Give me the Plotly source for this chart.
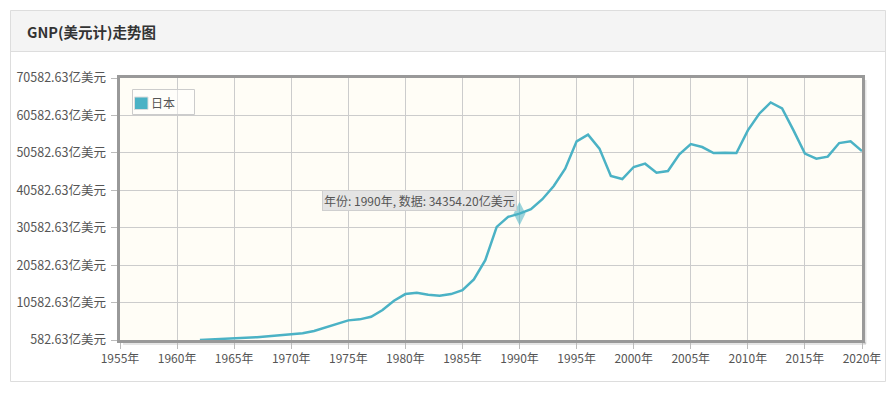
import plotly.graph_objects as go

# ---- data ----
series_name = "日本"
years = list(range(1962, 2021))
values = [
    582.63, 700, 850, 1000, 1150, 1350, 1600, 1850,   # 1962-1969
    2103, 2370, 2983, 3863, 4850, 5830, 6100, 6800, 8580, 11060,  # 1970-1979
    12850, 13200, 12660, 12400, 12850, 13900, 16770, 21920, 30800, 33470,  # 1980-1989
    34354.20, 35520, 38190, 41740, 46370, 53660, 55440, 51710, 44400, 43600,  # 1990-1999
    46800, 47700, 45300, 45740, 50190, 52940, 52140, 50540, 50640, 50540,  # 2000-2009
    56590, 61040, 64050, 62460, 56590, 50370, 49040, 49570, 53200, 53660,  # 2010-2019
    51070,  # 2020
]
y_ticks = [582.63 + 10000 * k for k in range(8)]
y_tick_labels = [f"{v:.2f}亿美元" for v in y_ticks]
x_ticks = list(range(1955, 2021, 5))
x_tick_labels = [f"{y}年" for y in x_ticks]
title_text = "GNP(美元计)走势图"
highlight_year = 1990

# ---- layout helpers (pixel -> paper) ----
W, H = 896, 393
L, R, T, B = 120, 862, 78, 340
def px(x):
    return (x - L) / (R - L)
def py(y):
    return (B - y) / (B - T)

LINE_COLOR = "#4bb2c5"
FONT = "Noto Sans CJK SC"

fig = go.Figure()
fig.add_trace(go.Scatter(
    x=years, y=values, mode="lines",
    line=dict(color=LINE_COLOR, width=2.5),
    name=series_name, showlegend=False, hoverinfo="skip",
))
hi = years.index(highlight_year)
fig.add_trace(go.Scatter(
    x=[years[hi]], y=[values[hi]], mode="markers",
    marker=dict(symbol="diamond-tall", size=17, color="rgba(75,178,197,0.55)",
                line=dict(width=0)),
    showlegend=False, hoverinfo="skip",
))

shapes = [
    # panel header
    dict(type="rect", xref="paper", yref="paper", layer="below",
         x0=px(10.5), x1=px(885.5), y0=py(51.5), y1=py(10.5),
         fillcolor="#f4f4f4", line=dict(width=0)),
    # panel border
    dict(type="rect", xref="paper", yref="paper", layer="below",
         x0=px(10.5), x1=px(885.5), y0=py(381.5), y1=py(10.5),
         fillcolor="rgba(0,0,0,0)", line=dict(color="#dddddd", width=1)),
    dict(type="line", xref="paper", yref="paper", layer="below",
         x0=px(10.5), x1=px(885.5), y0=py(51.5), y1=py(51.5),
         line=dict(color="#dddddd", width=1)),
    # plot-area shadow
    dict(type="line", xref="paper", yref="paper", layer="below",
         x0=px(865), x1=px(865), y0=py(80), y1=py(344),
         line=dict(color="rgba(0,0,0,0.10)", width=3)),
    dict(type="line", xref="paper", yref="paper", layer="below",
         x0=px(123), x1=px(866), y0=py(343.5), y1=py(343.5),
         line=dict(color="rgba(0,0,0,0.10)", width=3)),
    # legend box
    dict(type="rect", xref="paper", yref="paper", layer="above",
         x0=px(132.5), x1=px(194.5), y0=py(114.5), y1=py(89.5),
         fillcolor="rgba(255,255,255,0.45)", line=dict(color="#cccccc", width=1)),
    dict(type="rect", xref="paper", yref="paper", layer="above",
         x0=px(134.5), x1=px(148), y0=py(109.5), y1=py(97),
         fillcolor=LINE_COLOR, line=dict(color="#dddddd", width=1)),
]

annotations = [
    dict(text=f"<b>{title_text}</b>", xref="paper", yref="paper",
         x=px(25), y=py(31), xanchor="left", yanchor="middle", showarrow=False,
         font=dict(family=FONT, size=14.5, color="#333333")),
    dict(text=series_name, xref="paper", yref="paper",
         x=px(148.5), y=py(102.5), xanchor="left", yanchor="middle", showarrow=False,
         font=dict(family=FONT, size=12, color="#555555")),
    dict(text=f"年份: {highlight_year}年, 数据: {values[hi]:.2f}亿美元",
         xref="paper", yref="paper", x=px(517), y=py(200.5),
         xanchor="right", yanchor="middle", showarrow=False,
         bgcolor="#e4e4e4", bordercolor="#cfcfcf", borderwidth=1, borderpad=1,
         font=dict(family=FONT, size=12, color="#555555")),
]

fig.update_layout(
    width=W, height=H,
    margin=dict(l=L, r=W - R, t=T, b=H - B),
    paper_bgcolor="white", plot_bgcolor="#fffdf6",
    shapes=shapes, annotations=annotations,
    showlegend=False,
    font=dict(family=FONT, size=12, color="#555555"),
)
fig.update_xaxes(
    range=[1955, 2020], tickmode="array", tickvals=x_ticks, ticktext=x_tick_labels,
    showgrid=True, gridcolor="#cccccc", gridwidth=1, zeroline=False,
    showline=True, linecolor="#999999", linewidth=2.5, mirror=True,
    ticks="outside", ticklen=6, tickcolor="#bbbbbb", tickwidth=1,
    tickfont=dict(family=FONT, size=12, color="#555555"),
)
fig.update_yaxes(
    range=[y_ticks[0], y_ticks[-1]], tickmode="array", tickvals=y_ticks,
    ticktext=[t + " " for t in y_tick_labels],
    showgrid=True, gridcolor="#cccccc", gridwidth=1, zeroline=False,
    showline=True, linecolor="#999999", linewidth=2.5, mirror=True,
    ticks="outside", ticklen=6, tickcolor="#bbbbbb", tickwidth=1,
    tickfont=dict(family=FONT, size=12.5, color="#555555"),
)

fig.write_html("out.html", config={"displayModeBar": False},
               post_script="document.body.style.margin='0';document.body.style.overflow='hidden';")
